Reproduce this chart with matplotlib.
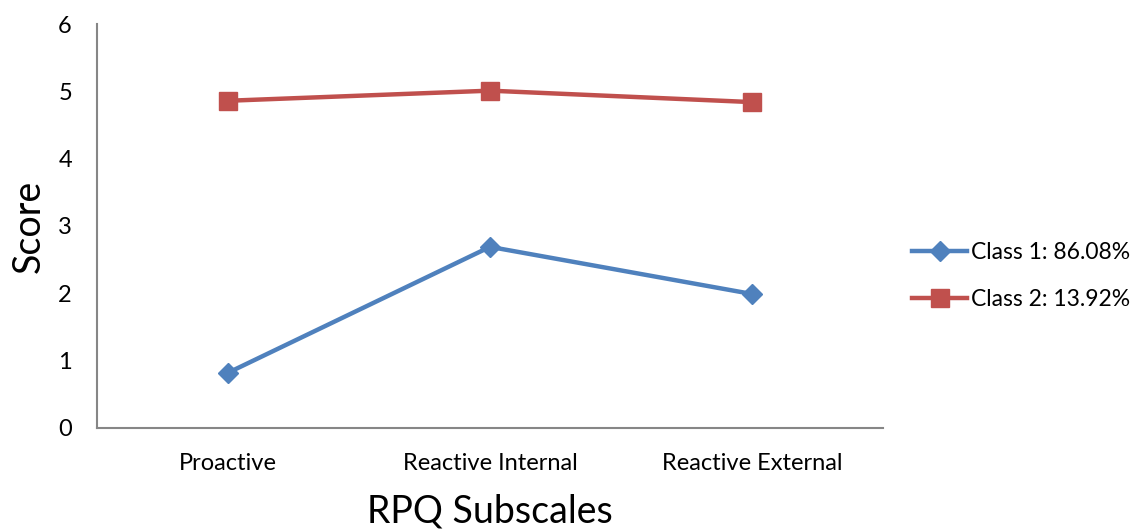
import matplotlib
matplotlib.use("Agg")
from matplotlib import pyplot as plt

# chart data
subscales = ["Proactive", "Reactive Internal", "Reactive External"]
class1 = [0.82, 2.69, 1.99]
class2 = [4.86, 5.01, 4.84]
labels = ["Class 1: 86.08%", "Class 2: 13.92%"]

plt.rcParams['font.family'] = ['Lato', 'DejaVu Sans']

fig = plt.figure(figsize=(11.45, 5.30), dpi=100)
ax = fig.add_axes([0.0847, 0.1925, 0.6865, 0.7622])

x = [i + 0.5 for i in range(len(subscales))]
ax.plot(x, class1, color="#4F81BD", lw=3.2, marker="D", ms=10, label=labels[0])
ax.plot(x, class2, color="#C0504D", lw=3.2, marker="s", ms=13, label=labels[1])

ax.set_xlim(0, 3)
ax.set_ylim(0, 6)
ax.set_xticks(x)
ax.set_xticklabels(subscales)
ax.set_yticks(range(7))
ax.tick_params(axis="both", length=0, labelsize=17)
ax.tick_params(axis="x", pad=18)
ax.tick_params(axis="y", pad=18)

for s in ["top", "right"]:
    ax.spines[s].set_visible(False)
for s in ["left", "bottom"]:
    ax.spines[s].set_color("#868686")
    ax.spines[s].set_linewidth(1.5)

ax.set_xlabel("RPQ Subscales", fontsize=27, labelpad=14)
ax.set_ylabel("Score", fontsize=27, labelpad=8)

ax.legend(loc="center left", bbox_to_anchor=(1.011, 0.376), frameon=False,
          fontsize=16.5, handlelength=2.4, handletextpad=0.15, labelspacing=1.15)

plt.savefig("out.png", dpi=100)
